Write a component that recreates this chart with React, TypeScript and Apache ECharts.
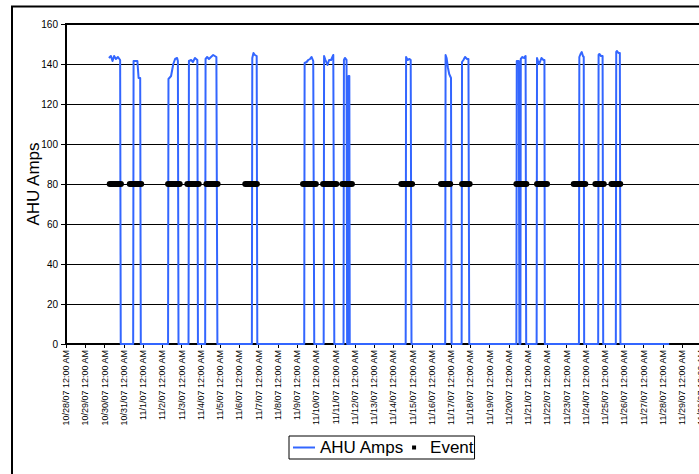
import React, { useEffect, useRef } from "react";
import * as echarts from "echarts";

const tickLabels = [
  "10/28/07 12:00 AM", "10/29/07 12:00 AM", "10/30/07 12:00 AM", "10/31/07 12:00 AM",
  "11/1/07 12:00 AM", "11/2/07 12:00 AM", "11/3/07 12:00 AM", "11/4/07 12:00 AM",
  "11/5/07 12:00 AM", "11/6/07 12:00 AM", "11/7/07 12:00 AM", "11/8/07 12:00 AM",
  "11/9/07 12:00 AM", "11/10/07 12:00 AM", "11/11/07 12:00 AM", "11/12/07 12:00 AM",
  "11/13/07 12:00 AM", "11/14/07 12:00 AM", "11/15/07 12:00 AM", "11/16/07 12:00 AM",
  "11/17/07 12:00 AM", "11/18/07 12:00 AM", "11/19/07 12:00 AM", "11/20/07 12:00 AM",
  "11/21/07 12:00 AM", "11/22/07 12:00 AM", "11/23/07 12:00 AM", "11/24/07 12:00 AM",
  "11/25/07 12:00 AM", "11/26/07 12:00 AM", "11/27/07 12:00 AM", "11/28/07 12:00 AM",
  "11/29/07 12:00 AM", "11/30/07 12:00 AM", "12/1/07 12:00 AM",
];

const ampsTimes = [
  "10/30 05:30", "10/30 08:00", "10/30 10:00", "10/30 12:00", "10/30 14:15", "10/30 16:45", "10/30 19:30", "10/30 20:15",
  "10/31 11:45", "10/31 12:15", "10/31 17:00", "10/31 18:30", "10/31 20:30", "10/31 21:15",
  "11/02 07:15", "11/02 07:45", "11/02 11:00", "11/02 13:45", "11/02 16:00", "11/02 18:30", "11/02 19:30", "11/02 20:15",
  "11/03 08:45", "11/03 09:15", "11/03 12:00", "11/03 14:15", "11/03 16:45", "11/03 19:45", "11/03 20:30",
  "11/04 05:30", "11/04 06:00", "11/04 08:00", "11/04 10:15", "11/04 12:45", "11/04 15:30", "11/04 19:30", "11/04 20:45",
  "11/06 15:45", "11/06 16:15", "11/06 17:45", "11/06 19:30", "11/06 21:45", "11/06 22:30",
  "11/09 09:00", "11/09 09:30", "11/09 12:00", "11/09 14:00", "11/09 16:15", "11/09 18:15", "11/09 20:15", "11/09 21:30",
  "11/10 09:15", "11/10 09:45", "11/10 11:30", "11/10 14:00", "11/10 16:00", "11/10 18:30", "11/10 21:15", "11/10 22:30",
  "11/11 10:00", "11/11 10:30", "11/11 11:45", "11/11 13:45", "11/11 14:30", "11/11 16:00", "11/11 16:15", "11/11 17:15", "11/11 17:45",
  "11/14 15:30", "11/14 16:00", "11/14 17:45", "11/14 20:15", "11/14 21:45", "11/14 22:45",
  "11/16 16:45", "11/16 17:15", "11/16 18:30", "11/16 20:15", "11/16 21:45", "11/17 00:00", "11/17 00:45",
  "11/17 13:15", "11/17 13:45", "11/17 15:30", "11/17 17:30", "11/17 20:00", "11/17 21:45", "11/17 22:45",
  "11/20 09:30", "11/20 10:00", "11/20 12:30", "11/20 13:15", "11/20 14:30", "11/20 15:00", "11/20 17:00", "11/20 19:00", "11/20 21:00", "11/20 21:45",
  "11/21 10:45", "11/21 11:15", "11/21 12:30", "11/21 14:00", "11/21 16:45", "11/21 19:15", "11/21 20:30", "11/21 21:00",
  "11/23 15:30", "11/23 16:00", "11/23 17:30", "11/23 19:00", "11/23 20:30", "11/23 21:30", "11/23 22:00",
  "11/24 15:30", "11/24 16:00", "11/24 17:00", "11/24 19:00", "11/24 21:00", "11/24 21:45",
  "11/25 13:30", "11/25 14:00", "11/25 15:00", "11/25 16:45", "11/25 18:30", "11/25 19:15",
  "11/28 08:00",
];

const ampsValues = [
  143, 144, 141.5, 144, 142.5, 143.5, 142, 0,
  0, 141.5, 141.5, 133, 133, 0,
  0, 132.5, 134, 140, 142.5, 143, 141.5, 0,
  0, 141.5, 142, 141, 143, 142, 0,
  0, 142.5, 143.5, 142.5, 143.5, 144.5, 143.5, 0,
  0, 143, 145.5, 144.5, 144, 0,
  0, 140.5, 141, 142, 142.5, 143.5, 141.5, 0,
  0, 144, 142, 139.5, 142, 142, 144.5, 0,
  0, 142, 143, 142, 0, 0, 134, 134, 0,
  0, 143.5, 142, 142.5, 142, 0,
  0, 144.5, 143, 138, 135, 133, 0,
  0, 141, 142, 143.5, 142.5, 142.5, 0,
  0, 141.5, 141.5, 0, 0, 142.5, 143.5, 143, 144, 0,
  0, 143, 141.5, 140, 143, 142, 142, 0,
  0, 143.5, 145, 146, 144, 143.5, 0,
  0, 144.5, 145, 144, 144, 0,
  0, 146, 146.5, 145.5, 145.5, 0,
  0,
];

const eventStarts = [
  "10/30 06:30", "10/31 07:30", "11/02 07:15", "11/03 07:15", "11/04 07:00", "11/06 07:30",
  "11/09 07:30", "11/10 08:30", "11/11 08:30", "11/14 10:00", "11/16 11:30", "11/17 13:45",
  "11/20 09:30", "11/21 11:15", "11/23 09:00", "11/24 12:00", "11/25 08:00",
];
const eventEnds = [
  "10/30 20:30", "10/31 21:45", "11/02 21:45", "11/03 21:30", "11/04 21:00", "11/06 22:00",
  "11/09 23:30", "11/11 01:00", "11/11 20:30", "11/14 23:30", "11/16 23:00", "11/17 23:15",
  "11/20 22:00", "11/21 23:45", "11/23 23:30", "11/24 22:30", "11/25 19:00",
];
const eventLevel = 80;

const ORIGIN = Date.UTC(2007, 9, 28);
function toDay(s: string): number {
  const [md, hm] = s.split(" ");
  const [m, d] = md.split("/").map(Number);
  const [h, mi] = hm.split(":").map(Number);
  return (Date.UTC(2007, m - 1, d, h, mi) - ORIGIN) / 86400000;
}

const FONT = "Arial, 'Liberation Sans', sans-serif";

export default function App() {
  const ref = useRef<HTMLDivElement>(null);

  useEffect(() => {
    if (!ref.current) return;
    const chart = echarts.init(ref.current, undefined, { renderer: "svg" });

    const ampsData = ampsTimes.map((t, i) => [toDay(t), ampsValues[i]]);
    const eventData: any[] = [];
    eventStarts.forEach((s, i) => {
      eventData.push([toDay(s), eventLevel]);
      eventData.push([toDay(eventEnds[i]), eventLevel]);
      eventData.push([toDay(eventEnds[i]), "-"]);
    });

    chart.setOption({
      animation: false,
      backgroundColor: "#ffffff",
      textStyle: { fontFamily: FONT },
      graphic: [
        {
          type: "rect",
          silent: true,
          shape: { x: 12, y: 6.5, width: 900, height: 700 },
          style: { fill: "none", stroke: "#000", lineWidth: 2 },
        },
      ],
      grid: {
        left: 66,
        top: 24,
        right: 760 - 720.5,
        bottom: 474 - 344,
        show: true,
        borderColor: "#000",
        borderWidth: 2,
        backgroundColor: "transparent",
      },
      legend: {
        left: 289,
        top: 436,
        padding: [3, 1, 3, 4],
        borderColor: "#000",
        borderWidth: 1,
        borderRadius: 0,
        itemWidth: 22,
        itemHeight: 4,
        itemGap: 8,
        itemStyle: { borderWidth: 0 },
        textStyle: { fontSize: 17, color: "#000", fontFamily: FONT },
        data: [
          { name: "AHU Amps", icon: "path://M0,0H22V2H0Z" },
          { name: "Event", icon: "path://M0,0H1V1H0Z" },
        ],
      },
      xAxis: {
        type: "value",
        min: 0,
        max: tickLabels.length - 1,
        interval: 1,
        axisLine: { show: true, onZero: false, lineStyle: { color: "#000", width: 2 } },
        axisTick: { show: true, length: 4, lineStyle: { color: "#000", width: 1 } },
        splitLine: { show: false },
        axisLabel: {
          rotate: 90,
          fontSize: 9,
          color: "#000",
          fontFamily: FONT,
          margin: 6,
          formatter: (v: number) => tickLabels[Math.round(v)] ?? "",
        },
      },
      yAxis: {
        type: "value",
        min: 0,
        max: 160,
        interval: 20,
        name: "AHU Amps",
        nameLocation: "middle",
        nameGap: 24,
        nameMoveOverlap: false,
        nameTextStyle: { fontSize: 17, color: "#000", fontFamily: FONT },
        axisLine: { show: true, lineStyle: { color: "#000", width: 2 } },
        axisTick: { show: true, length: 5, lineStyle: { color: "#000", width: 1 } },
        splitLine: { show: true, lineStyle: { color: "#000", width: 1 } },
        axisLabel: { fontSize: 10, color: "#000", fontFamily: FONT, margin: 8 },
      },
      series: [
        {
          name: "AHU Amps",
          type: "line",
          data: ampsData,
          showSymbol: false,
          symbol: "none",
          itemStyle: { color: "#3366ff" },
          lineStyle: { color: "#3366ff", width: 2, join: "round" },
          z: 2,
        },
        {
          name: "Event",
          type: "line",
          data: eventData,
          showSymbol: false,
          symbol: "rect",
          connectNulls: false,
          itemStyle: { color: "#000" },
          lineStyle: { color: "#000", width: 6, cap: "round", join: "round" },
          z: 3,
        },
      ],
    });

    return () => chart.dispose();
  }, []);

  return (
    <div
      style={{
        position: "fixed",
        left: 0,
        top: 0,
        width: 699,
        height: 474,
        overflow: "hidden",
        background: "#fff",
      }}
    >
      <div ref={ref} style={{ width: 760, height: 474 }} />
    </div>
  );
}
